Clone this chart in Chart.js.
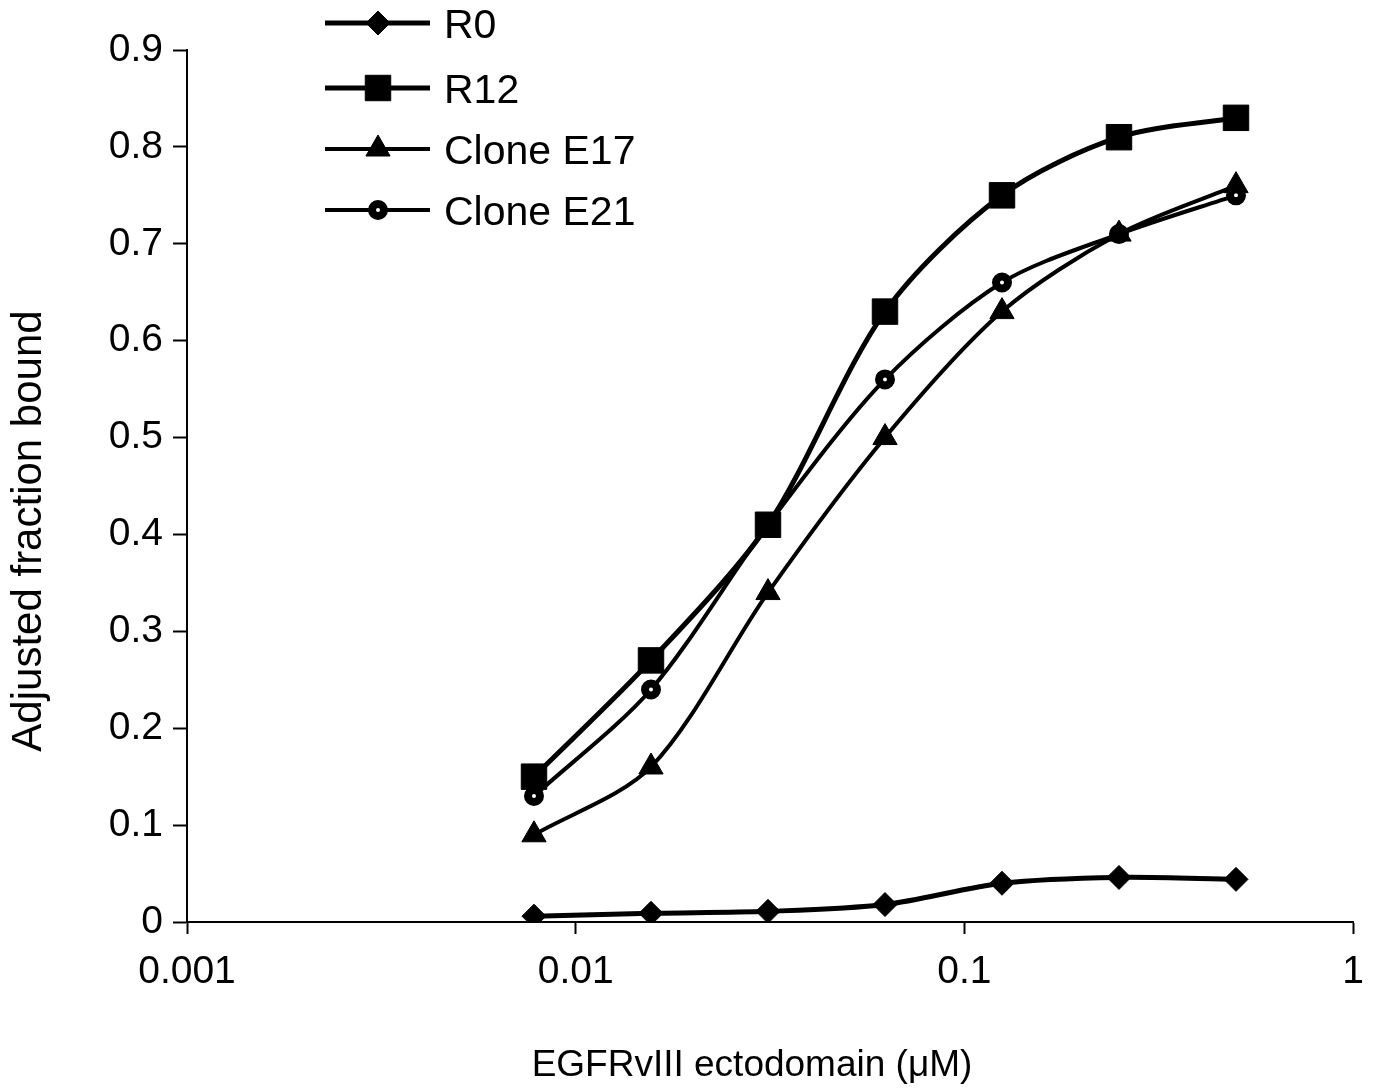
<!DOCTYPE html>
<html>
<head>
<meta charset="utf-8">
<script src="https://cdn.jsdelivr.net/npm/chart.js@4.4.1/dist/chart.umd.min.js"></script>
<style>
    body { margin: 0; background: #fff; }
    canvas { display: block; }
</style>
</head>
<body>
<canvas id="binding-chart" width="1373" height="1091"></canvas>
<script>
// Data
const concentrations = [0.0078125, 0.015625, 0.03125, 0.0625, 0.125, 0.25, 0.5];
const seriesNames = ['R0', 'R12', 'Clone E17', 'Clone E21'];
const r0Values = [0.006, 0.009, 0.011, 0.018, 0.040, 0.046, 0.044];
const r12Values = [0.15, 0.27, 0.41, 0.63, 0.75, 0.81, 0.83];
const e17Values = [0.09, 0.16, 0.34, 0.50, 0.63, 0.71, 0.76];
const e21Values = [0.13, 0.24, 0.41, 0.56, 0.66, 0.71, 0.75];
const xTickValues = [0.001, 0.01, 0.1, 1];
const xTickLabels = ['0.001', '0.01', '0.1', '1'];
const yTickLabels = ['0', '0.1', '0.2', '0.3', '0.4', '0.5', '0.6', '0.7', '0.8', '0.9'];
const xTitle = 'EGFRvIII ectodomain (μM)';
const yTitle = 'Adjusted fraction bound';

const FONT = "'Liberation Sans', Arial, sans-serif";

// Marker styles per series
const MARKERS = [
    { pointStyle: 'rectRot', radius: 12, bg: '#000', border: 1, lineWidth: 5 },
    { pointStyle: 'rect', radius: 18, bg: '#000', border: 1, lineWidth: 5 },
    { pointStyle: 'triangle', radius: 14, bg: '#000', border: 1, lineWidth: 4 },
    { pointStyle: 'circle', radius: 6, bg: '#fff', border: 8, lineWidth: 4 }
];

const seriesValues = [r0Values, r12Values, e17Values, e21Values];

const datasets = seriesNames.map((name, i) => ({
    label: name,
    data: concentrations.map((x, j) => ({ x, y: seriesValues[i][j] })),
    borderColor: '#000',
    borderWidth: MARKERS[i].lineWidth,
    tension: 0.3,
    pointStyle: MARKERS[i].pointStyle,
    pointRadius: MARKERS[i].radius,
    pointBackgroundColor: MARKERS[i].bg,
    pointBorderColor: '#000',
    pointBorderWidth: MARKERS[i].border
}));

// Legend in the top left (line + marker + label) and the axis titles
const annotatePlugin = {
    id: 'annotate',
    afterDraw(chart) {
        const ctx = chart.ctx;
        const rows = [23, 88, 149, 210];
        ctx.save();
        chart.data.datasets.forEach((ds, i) => {
            const y = rows[i];
            ctx.strokeStyle = '#000';
            ctx.lineWidth = ds.borderWidth;
            ctx.beginPath();
            ctx.moveTo(325, y);
            ctx.lineTo(430, y);
            ctx.stroke();
            ctx.fillStyle = ds.pointBackgroundColor;
            ctx.lineWidth = ds.pointBorderWidth;
            Chart.helpers.drawPoint(ctx, {
                pointStyle: ds.pointStyle,
                radius: ds.pointRadius,
                rotation: 0,
                borderWidth: ds.pointBorderWidth
            }, 378, y);
            ctx.fillStyle = '#000';
            ctx.font = '41px ' + FONT;
            ctx.textBaseline = 'middle';
            ctx.textAlign = 'left';
            ctx.fillText(ds.label, 444, y + 4);
        });

        ctx.fillStyle = '#000';
        ctx.textAlign = 'center';
        ctx.textBaseline = 'middle';
        ctx.font = '37px ' + FONT;
        ctx.fillText(xTitle, 752, 1066);

        ctx.translate(29, 531);
        ctx.rotate(-Math.PI / 2);
        ctx.font = '42px ' + FONT;
        ctx.fillText(yTitle, 0, 0);
        ctx.restore();
    }
};

new Chart(document.getElementById('binding-chart'), {
    type: 'line',
    data: { datasets },
    plugins: [annotatePlugin],
    options: {
        responsive: false,
        devicePixelRatio: 1,
        animation: false,
        layout: { padding: { top: 50, right: 20, left: 0, bottom: 0 } },
        plugins: {
            legend: { display: false },
            tooltip: { enabled: false }
        },
        scales: {
            x: {
                type: 'logarithmic',
                min: 0.001,
                max: 1,
                afterBuildTicks(scale) {
                    scale.ticks = xTickValues.map(v => ({ value: v, major: true }));
                },
                afterFit(scale) {
                    scale.height = 169;
                    scale.paddingLeft = 0;
                    scale.paddingRight = 0;
                },
                ticks: {
                    color: '#000',
                    font: { family: FONT, size: 39 },
                    padding: 15,
                    maxRotation: 0,
                    autoSkip: false,
                    callback: (v) => xTickLabels[xTickValues.indexOf(v)]
                },
                grid: {
                    drawOnChartArea: false,
                    drawTicks: true,
                    tickLength: 12,
                    tickColor: '#000',
                    tickWidth: 2
                },
                border: { display: true, color: '#000', width: 2 }
            },
            y: {
                min: 0,
                max: 0.9,
                afterFit(scale) {
                    scale.width = 187;
                    scale.paddingTop = 0;
                    scale.paddingBottom = 0;
                },
                ticks: {
                    stepSize: 0.1,
                    color: '#000',
                    font: { family: FONT, size: 39 },
                    padding: 10,
                    callback: (v, i) => yTickLabels[i]
                },
                grid: {
                    drawOnChartArea: false,
                    drawTicks: true,
                    tickLength: 14,
                    tickColor: '#000',
                    tickWidth: 2
                },
                border: { display: true, color: '#000', width: 2 }
            }
        }
    }
});
</script>
</body>
</html>
